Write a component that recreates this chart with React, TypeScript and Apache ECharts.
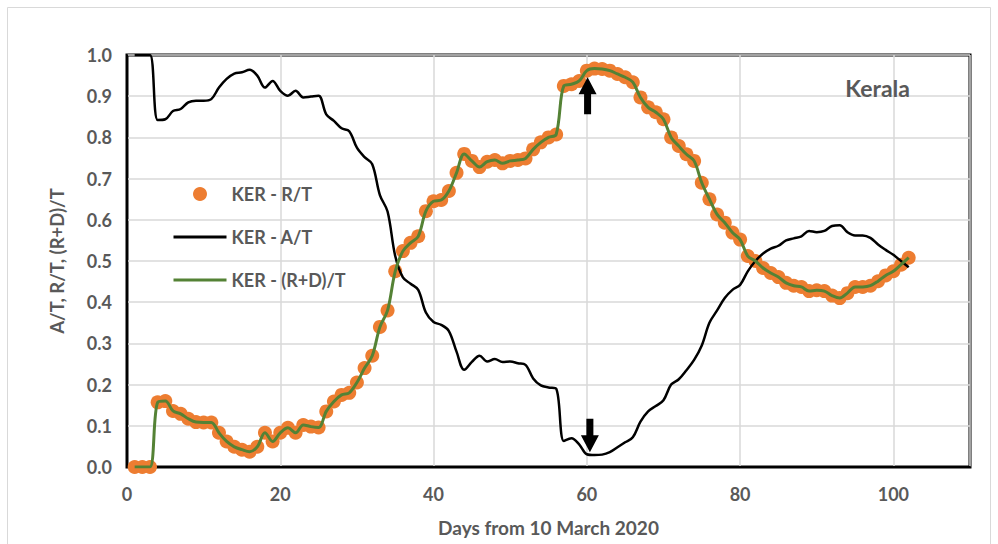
import React, { useEffect, useRef } from "react";
import * as echarts from "echarts";

// Days since 10 March 2020
const days = [
  1, 2, 3, 4, 5, 6, 7, 8, 9, 10, 11, 12, 13, 14, 15, 16, 17, 18, 19, 20,
  21, 22, 23, 24, 25, 26, 27, 28, 29, 30, 31, 32, 33, 34, 35, 36, 37, 38, 39, 40,
  41, 42, 43, 44, 45, 46, 47, 48, 49, 50, 51, 52, 53, 54, 55, 56, 57, 58, 59, 60,
  61, 62, 63, 64, 65, 66, 67, 68, 69, 70, 71, 72, 73, 74, 75, 76, 77, 78, 79, 80,
  81, 82, 83, 84, 85, 86, 87, 88, 89, 90, 91, 92, 93, 94, 95, 96, 97, 98, 99, 100,
  101, 102,
];

// Recovered / total
const recoveredRatio = [
  0, 0, 0, 0.157, 0.16, 0.136, 0.129, 0.117, 0.109, 0.108,
  0.108, 0.083, 0.062, 0.049, 0.042, 0.037, 0.049, 0.083, 0.062, 0.083,
  0.095, 0.083, 0.102, 0.098, 0.096, 0.135, 0.159, 0.175, 0.18, 0.205,
  0.24, 0.27, 0.34, 0.38, 0.475, 0.524, 0.544, 0.56, 0.621, 0.645,
  0.648, 0.67, 0.714, 0.76, 0.743, 0.728, 0.741, 0.745, 0.737, 0.743,
  0.745, 0.749, 0.771, 0.788, 0.8, 0.807, 0.925, 0.929, 0.937, 0.962,
  0.967, 0.966, 0.962, 0.954, 0.946, 0.934, 0.897, 0.873, 0.861, 0.844,
  0.8, 0.779, 0.759, 0.743, 0.69, 0.65, 0.613, 0.593, 0.569, 0.552,
  0.512, 0.5, 0.483, 0.471, 0.461, 0.447, 0.44, 0.437, 0.427, 0.429,
  0.427, 0.416, 0.41, 0.422, 0.437, 0.437, 0.44, 0.451, 0.465, 0.475,
  0.491, 0.508,
];

// Active / total
const activeRatio = [
  1.0, 1.0, 1.0, 0.842, 0.844, 0.864, 0.869, 0.885, 0.889, 0.889,
  0.893, 0.921, 0.942, 0.955, 0.958, 0.964, 0.95, 0.921, 0.937, 0.913,
  0.901, 0.913, 0.897, 0.899, 0.901, 0.856, 0.84, 0.822, 0.815, 0.775,
  0.752, 0.735, 0.66, 0.62, 0.512, 0.46, 0.445, 0.43, 0.375, 0.352,
  0.345, 0.33, 0.28, 0.236, 0.255, 0.27, 0.256, 0.262, 0.255, 0.256,
  0.252, 0.248, 0.215, 0.198, 0.193, 0.19, 0.063, 0.07, 0.055, 0.031,
  0.029, 0.03, 0.036, 0.048, 0.06, 0.072, 0.11, 0.135, 0.148, 0.162,
  0.2, 0.213, 0.235, 0.26, 0.295, 0.35, 0.38, 0.41, 0.43, 0.442,
  0.475, 0.5, 0.518, 0.53, 0.537, 0.55, 0.555, 0.56, 0.573, 0.57,
  0.573, 0.585, 0.587, 0.57, 0.562, 0.562, 0.556, 0.54, 0.527, 0.515,
  0.5, 0.485,
];

// (Recovered + deceased) / total
const closedRatio = [
  0, 0, 0, 0.157, 0.16, 0.136, 0.129, 0.117, 0.109, 0.108,
  0.108, 0.083, 0.062, 0.049, 0.042, 0.037, 0.049, 0.083, 0.062, 0.083,
  0.095, 0.083, 0.102, 0.098, 0.096, 0.135, 0.159, 0.175, 0.18, 0.205,
  0.24, 0.27, 0.34, 0.38, 0.475, 0.524, 0.544, 0.56, 0.621, 0.645,
  0.648, 0.67, 0.714, 0.76, 0.743, 0.728, 0.741, 0.745, 0.737, 0.743,
  0.745, 0.749, 0.771, 0.788, 0.8, 0.807, 0.925, 0.929, 0.937, 0.962,
  0.967, 0.966, 0.962, 0.954, 0.946, 0.934, 0.897, 0.873, 0.861, 0.844,
  0.8, 0.779, 0.759, 0.743, 0.69, 0.65, 0.613, 0.593, 0.569, 0.552,
  0.512, 0.5, 0.483, 0.471, 0.461, 0.447, 0.44, 0.437, 0.427, 0.429,
  0.427, 0.416, 0.41, 0.422, 0.437, 0.437, 0.44, 0.451, 0.465, 0.475,
  0.491, 0.508,
];

const seriesNames = ["KER - R/T", "KER - A/T", "KER - (R+D)/T"];

// Arrows marking the peak of R/T and the trough of A/T
const arrows = [
  { day: 60.1, from: 0.856, to: 0.946 },
  { day: 60.4, from: 0.117, to: 0.036 },
];

const FONT = "Lato, 'Open Sans', sans-serif";
const GREY = "#595959";
const ORANGE = "#ED7D31";
const GREEN = "#548235";

const pairs = (ys: number[]) => days.map((d, i) => [d, ys[i]]);

export default function App() {
  const ref = useRef<HTMLDivElement>(null);

  useEffect(() => {
    if (!ref.current) return;
    const chart = echarts.init(ref.current, undefined, { renderer: "svg" });

    chart.setOption({
      animation: false,
      backgroundColor: "#fff",
      textStyle: { fontFamily: FONT },
      title: {
        text: "Kerala",
        right: 83,
        top: 71,
        textStyle: { fontFamily: FONT, fontWeight: "bold", fontSize: 23, color: GREY },
      },
      legend: {
        orient: "vertical",
        left: 167,
        top: 180,
        itemWidth: 53,
        itemHeight: 14,
        itemGap: 25,
        data: [
          { name: seriesNames[0] },
          {
            name: seriesNames[1],
            itemStyle: { opacity: 0 },
            lineStyle: { width: 3, color: "#000" },
          },
          {
            name: seriesNames[2],
            itemStyle: { opacity: 0 },
            lineStyle: { width: 3, color: GREEN },
          },
        ],
        textStyle: { fontFamily: FONT, fontWeight: "bold", fontSize: 18, color: GREY },
      },
      grid: {
        left: 127,
        right: 28,
        top: 55,
        bottom: 77,
        show: true,
        borderColor: "#000",
        borderWidth: 3,
      },
      xAxis: {
        type: "value",
        min: 0,
        max: 110,
        interval: 20,
        name: "Days from 10 March 2020",
        nameLocation: "middle",
        nameGap: 51,
        nameTextStyle: { fontFamily: FONT, fontWeight: "bold", fontSize: 19, color: GREY },
        axisLine: { show: true, lineStyle: { color: "#000", width: 2 } },
        axisTick: { show: false },
        axisLabel: {
          showMaxLabel: false,
          margin: 18,
          fontFamily: FONT,
          fontWeight: "bold",
          fontSize: 18,
          color: GREY,
        },
        splitLine: { show: true, lineStyle: { color: "#D9D9D9", width: 1.5 } },
      },
      yAxis: {
        type: "value",
        min: 0,
        max: 1,
        interval: 0.1,
        name: "A/T, R/T, (R+D)/T",
        nameLocation: "middle",
        nameGap: 61,
        nameTextStyle: { fontFamily: FONT, fontWeight: "bold", fontSize: 18.5, color: GREY },
        axisLine: { show: true, lineStyle: { color: "#000", width: 2 } },
        axisTick: { show: false },
        axisLabel: {
          margin: 15,
          fontFamily: FONT,
          fontWeight: "bold",
          fontSize: 18,
          color: GREY,
          formatter: (v: number) => v.toFixed(1),
        },
        splitLine: { show: true, lineStyle: { color: "#D9D9D9", width: 1.5 } },
      },
      series: [
        {
          name: seriesNames[0],
          type: "scatter",
          data: pairs(recoveredRatio),
          symbol: "circle",
          symbolSize: 14,
          itemStyle: { color: ORANGE, opacity: 1 },
          z: 2,
        },
        {
          name: seriesNames[1],
          type: "line",
          data: pairs(activeRatio),
          showSymbol: false,
          symbol: "none",
          smooth: 0.35,
          lineStyle: { color: "#000", width: 2.5 },
          itemStyle: { color: "#000" },
          z: 3,
        },
        {
          name: seriesNames[2],
          type: "line",
          data: pairs(closedRatio),
          showSymbol: false,
          symbol: "none",
          smooth: 0.35,
          lineStyle: { color: GREEN, width: 3 },
          itemStyle: { color: GREEN },
          z: 4,
        },
      ],
    });

    // Arrow annotations placed in data coordinates
    const arrowShapes = arrows.map((a) => {
      const [x, y0] = chart.convertToPixel({ gridIndex: 0 }, [a.day, a.from]) as number[];
      const [, y1] = chart.convertToPixel({ gridIndex: 0 }, [a.day, a.to]) as number[];
      const dir = y1 > y0 ? 1 : -1;
      const head = 17;
      const hw = 9;
      const sw = 3.5;
      const yb = y1 - dir * head;
      return {
        type: "polygon",
        z: 10,
        shape: {
          points: [
            [x - sw, y0],
            [x + sw, y0],
            [x + sw, yb],
            [x + hw, yb],
            [x, y1],
            [x - hw, yb],
            [x - sw, yb],
          ],
        },
        style: { fill: "#000" },
      };
    });

    chart.setOption({
      graphic: [
        {
          type: "rect",
          z: -1,
          shape: { x: 7.5, y: 7.5, width: 983, height: 560 },
          style: { fill: "none", stroke: "#D9D9D9", lineWidth: 1 },
          silent: true,
        },
        ...arrowShapes,
      ],
    });

    return () => chart.dispose();
  }, []);

  return (
    <div
      ref={ref}
      style={{ position: "fixed", left: 0, top: 0, width: 998, height: 544 }}
    />
  );
}
